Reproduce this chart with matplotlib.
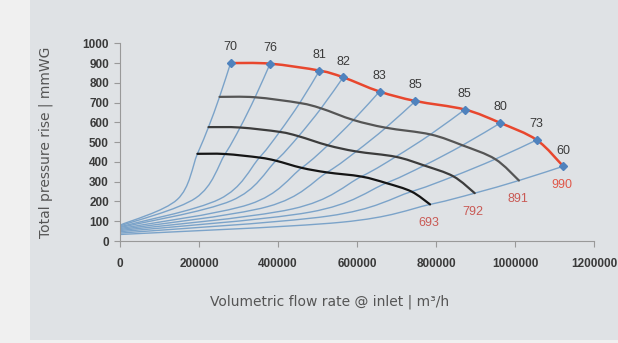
import numpy as np
import matplotlib
matplotlib.use('Agg')
import matplotlib.pyplot as plt
from matplotlib.path import Path
from matplotlib.patches import PathPatch, Rectangle

# Efficiency points along the 990 rpm curve
EFFICIENCY = [70, 76, 81, 82, 83, 85, 85, 80, 73, 60]
FLOW_990 = [280000, 380000, 505000, 565000, 657000, 748000, 873000, 963000, 1055000, 1122000]
PRESS_990 = [900, 897, 862, 828, 756, 708, 665, 597, 511, 378]

# Reduced speed curves
FLOW_891 = [252000, 342000, 455000, 509000, 591000, 673000, 786000, 867000, 950000, 1010000]
PRESS_891 = [729, 727, 698, 671, 612, 573, 539, 484, 414, 306]
FLOW_792 = [224000, 304000, 404000, 452000, 526000, 598000, 698000, 770000, 844000, 898000]
PRESS_792 = [576, 574, 552, 530, 484, 453, 426, 382, 327, 242]
FLOW_693 = [196000, 266000, 353000, 395000, 460000, 524000, 611000, 674000, 738000, 785000]
PRESS_693 = [441, 440, 422, 406, 370, 347, 326, 293, 250, 185]

# Lower part of the iso-efficiency lines
FLOW_LOW = [145000, 192000, 252000, 282000, 328000, 374000, 436000, 481000, 527000, 561000]
PRESS_LOW = [210, 218, 212, 204, 186, 174, 162, 146, 126, 95]
PRESS_START = [80, 76, 72, 68, 63, 58, 53, 47, 40, 33]

SPEED_LABELS = ['693', '792', '891', '990']
X_TICKS = [0, 200000, 400000, 600000, 800000, 1000000, 1200000]
X_TICK_LABELS = ['0', '200000', '400000', '600000', '800000', '1000000', '1200000']
Y_TICKS = [0, 100, 200, 300, 400, 500, 600, 700, 800, 900, 1000]

BLUE = '#7ba3c9'
MARKER_BLUE = '#4f82bd'
RED_LINE = '#e8472e'
RED_TEXT = '#c95a55'
TEXT = '#3a3a3a'

plt.rcParams['font.family'] = ['Liberation Sans', 'DejaVu Sans']


def smooth_path(xs, ys):
    """Catmull-Rom style smoothed line as a cubic Bezier path."""
    pts = np.column_stack([xs, ys]).astype(float)
    n = len(pts)
    verts = [pts[0]]
    codes = [Path.MOVETO]
    for i in range(n - 1):
        p_prev = pts[i - 1] if i > 0 else pts[i]
        p_next = pts[i + 2] if i + 2 < n else pts[i + 1]
        c1 = pts[i] + (pts[i + 1] - p_prev) / 6.0
        c2 = pts[i + 1] - (p_next - pts[i]) / 6.0
        verts += [c1, c2, pts[i + 1]]
        codes += [Path.CURVE4] * 3
    return Path(verts, codes)


def add_curve(ax, xs, ys, color, lw, z):
    patch = PathPatch(smooth_path(xs, ys), fill=False, edgecolor=color,
                      linewidth=lw, zorder=z, capstyle='round')
    ax.add_patch(patch)


fig = plt.figure(figsize=(6.18, 3.43), dpi=100)
fig.patch.set_facecolor('#f0f0f0')

# grey panel behind the chart
bg = fig.add_axes([30 / 618, 3 / 343, 1, 1], zorder=-5)
bg.set_axis_off()
bg.add_patch(Rectangle((0, 0), 1, 1, transform=bg.transAxes,
                       facecolor='#dfe2e5', edgecolor='none'))

ax = fig.add_axes([120 / 618, 102 / 343, 474 / 618, 197.7 / 343])
ax.set_facecolor('none')

# iso-efficiency lines
for i in range(len(EFFICIENCY)):
    xs = [0, FLOW_LOW[i], FLOW_693[i], FLOW_792[i], FLOW_891[i], FLOW_990[i]]
    ys = [PRESS_START[i], PRESS_LOW[i], PRESS_693[i], PRESS_792[i], PRESS_891[i], PRESS_990[i]]
    add_curve(ax, xs, ys, BLUE, 1.0, 2)

# speed curves
add_curve(ax, FLOW_693, PRESS_693, '#151515', 1.6, 3)
add_curve(ax, FLOW_792, PRESS_792, '#3c3c3c', 1.6, 3)
add_curve(ax, FLOW_891, PRESS_891, '#555555', 1.6, 3)
add_curve(ax, FLOW_990, PRESS_990, RED_LINE, 1.8, 4)
ax.plot(FLOW_990, PRESS_990, linestyle='none', marker='D', markersize=4.5,
        color=MARKER_BLUE, zorder=5)

for q, p, e in zip(FLOW_990, PRESS_990, EFFICIENCY):
    ax.annotate(str(e), (q, p), xytext=(0, 7), textcoords='offset points',
                ha='center', va='bottom', fontsize=9, color=TEXT)

ends = [(FLOW_693[-1], PRESS_693[-1]), (FLOW_792[-1], PRESS_792[-1]),
        (FLOW_891[-1], PRESS_891[-1]), (FLOW_990[-1], PRESS_990[-1])]
for (q, p), lab in zip(ends, SPEED_LABELS):
    col = '#e0584a' if lab == '990' else RED_TEXT
    ax.annotate(lab, (q, p), xytext=(-1, -9), textcoords='offset points',
                ha='center', va='top', fontsize=9, color=col)

ax.set_xlim(0, 1200000)
ax.set_ylim(0, 1000)
ax.set_xticks(X_TICKS)
ax.set_xticklabels(X_TICK_LABELS)
ax.set_yticks(Y_TICKS)
for lab in ax.get_xticklabels() + ax.get_yticklabels():
    lab.set_fontweight('bold')
ax.tick_params(axis='both', colors='#999999', labelcolor=TEXT, labelsize=8.5,
               length=4, width=0.8)
ax.tick_params(axis='x', pad=8)
ax.tick_params(axis='y', pad=4)

for side in ['top', 'right']:
    ax.spines[side].set_visible(False)
for side in ['left', 'bottom']:
    ax.spines[side].set_color('#999999')
    ax.spines[side].set_linewidth(0.8)

fig.text(330 / 618, 1 - 302 / 343, 'Volumetric flow rate @ inlet | m³/h',
         ha='center', va='center', fontsize=10, color='#555555', family='DejaVu Sans')
fig.text(46 / 618, 1 - 142 / 343, 'Total pressure rise | mmWG', rotation=90,
         ha='center', va='center', fontsize=10, color='#555555', family='DejaVu Sans')

fig.savefig('out.png', dpi=100, facecolor=fig.get_facecolor())
